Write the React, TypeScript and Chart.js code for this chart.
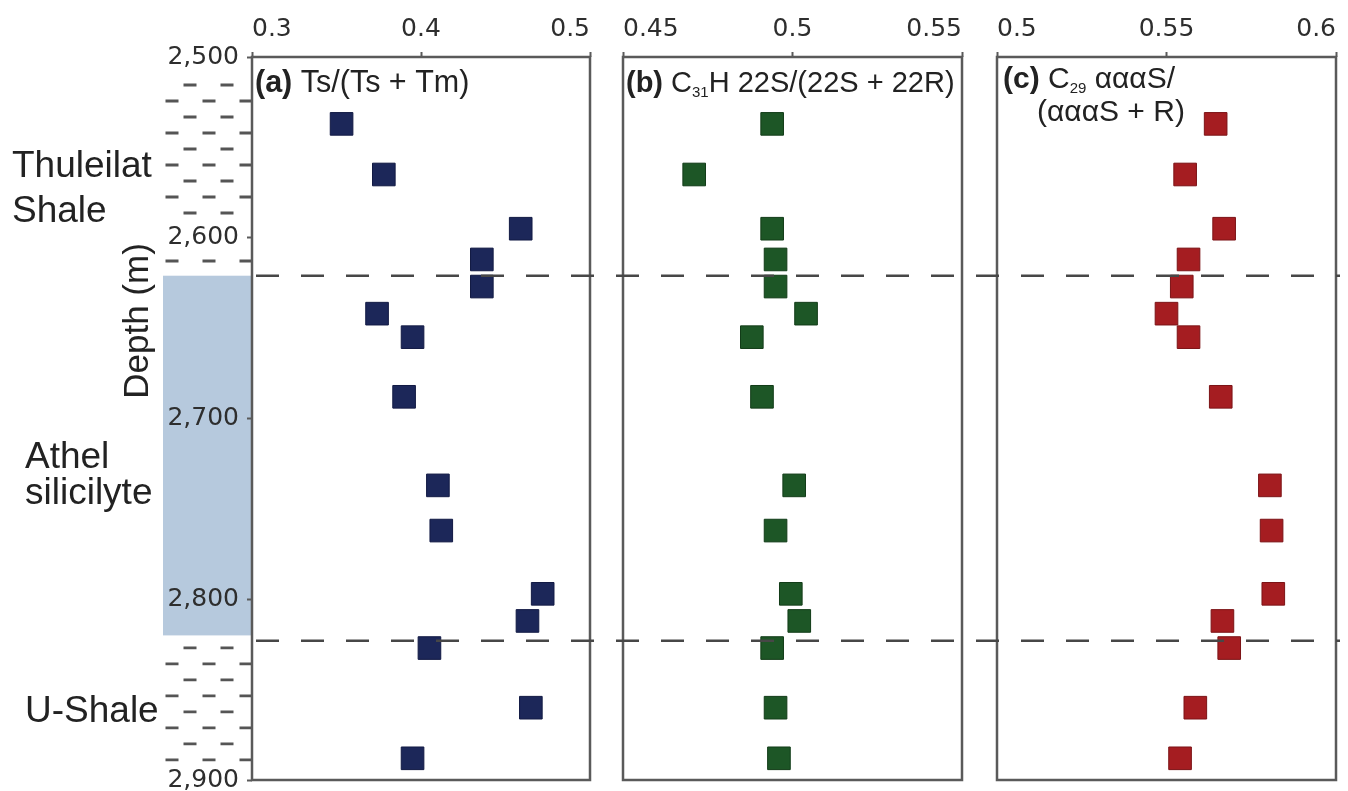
import React, { useEffect, useRef } from 'react';
import { Chart, registerables } from 'chart.js';

Chart.register(...registerables);

// ---------------- data ----------------
const DEPTHS = [2537, 2565, 2595, 2612, 2627, 2642, 2655, 2688, 2737, 2762, 2797, 2812, 2827, 2860, 2888];
const TS_TM = [0.353, 0.378, 0.459, 0.436, 0.436, 0.374, 0.395, 0.39, 0.41, 0.412, 0.472, 0.463, 0.405, 0.465, 0.395];
const C31_22S = [0.494, 0.471, 0.494, 0.495, 0.495, 0.504, 0.488, 0.491, 0.5005, 0.495, 0.4995, 0.502, 0.494, 0.495, 0.496];
const C29_S = [0.5645, 0.5555, 0.567, 0.5565, 0.5545, 0.55, 0.5565, 0.566, 0.5805, 0.581, 0.5815, 0.5665, 0.5685, 0.5585, 0.554];

const DEPTH_TICKS = [2500, 2600, 2700, 2800, 2900];
const DEPTH_TICK_LABELS = ['2,500', '2,600', '2,700', '2,800', '2,900'];
const A_TICKS = [0.3, 0.4, 0.5];
const A_TICK_LABELS = ['0.3', '0.4', '0.5'];
const B_TICKS = [0.45, 0.5, 0.55];
const B_TICK_LABELS = ['0.45', '0.5', '0.55'];
const C_TICKS = [0.5, 0.55, 0.6];
const C_TICK_LABELS = ['0.5', '0.55', '0.6'];

const BOUNDARY_DEPTHS = [2621, 2823];
const ATHEL_RANGE = [2621, 2820];
const SHALE_RANGES = [[2500, 2621], [2823, 2900]];
const FORMATION_LINES = [['Thuleilat', 'Shale'], ['Athel', 'silicilyte'], ['U-Shale']];
const AXIS_TITLE = 'Depth (m)';

// ---------------- style ----------------
const SANS = '"Liberation Sans", Arial, Helvetica, sans-serif';
const TICK_FONT = 'DejaVu Sans';
const FRAME = '#5a5a5a';
const TEXT = '#222222';

type Run = { t: string; bold?: boolean; size?: number; dy?: number };

function drawRuns(ctx: CanvasRenderingContext2D, x: number, y: number, runs: Run[], base = 29) {
  let cx = x;
  ctx.textAlign = 'left';
  ctx.textBaseline = 'alphabetic';
  ctx.fillStyle = TEXT;
  for (const r of runs) {
    ctx.font = `${r.bold ? 'bold ' : ''}${r.size ?? base}px ${SANS}`;
    ctx.fillText(r.t, cx, y + (r.dy ?? 0));
    cx += ctx.measureText(r.t).width;
  }
}

function makePlugin(kind: 'a' | 'b' | 'c', ox: number) {
  return {
    id: 'decor_' + kind,
    beforeDraw(chart: any) {
      if (kind !== 'a') return;
      const ctx: CanvasRenderingContext2D = chart.ctx;
      const ys = chart.scales.y;
      const left = chart.chartArea.left;
      ctx.save();
      // Athel silicilyte band
      const t = ys.getPixelForValue(ATHEL_RANGE[0]);
      const b = ys.getPixelForValue(ATHEL_RANGE[1]);
      ctx.fillStyle = '#b6c9dd';
      ctx.fillRect(163, t, left - 163, b - t);
      // shale pattern
      ctx.strokeStyle = '#555555';
      ctx.lineWidth = 2.8;
      ctx.beginPath();
      const starts = [28, 7];
      SHALE_RANGES.forEach(([d0, d1], zi) => {
        const top = ys.getPixelForValue(d0);
        const bot = ys.getPixelForValue(d1);
        let row = 0;
        for (let py = top + starts[zi]; py < bot - 6; py += 16, row++) {
          if (DEPTH_TICKS.some((tk) => Math.abs(ys.getPixelForValue(tk) - py) < 13)) continue;
          const xs = row % 2 === 0 ? [190, 227] : [172, 209, 246];
          xs.forEach((cx) => {
            ctx.moveTo(cx - 6.5, py);
            ctx.lineTo(cx + 6.5, py);
          });
        }
      });
      ctx.stroke();
      ctx.restore();
    },
    beforeDatasetsDraw(chart: any) {
      const ctx: CanvasRenderingContext2D = chart.ctx;
      const { left, right, top, bottom } = chart.chartArea;
      ctx.save();
      ctx.strokeStyle = FRAME;
      ctx.lineWidth = 2.5;
      ctx.strokeRect(left, top, right - left, bottom - top);
      ctx.restore();
    },
    afterDatasetsDraw(chart: any) {
      const ctx: CanvasRenderingContext2D = chart.ctx;
      const ys = chart.scales.y;
      const gStart = 256;
      const gEnd = 1340;
      const w = chart.width;
      const x0 = Math.max(0, gStart - ox);
      const x1 = Math.min(w, gEnd - ox);
      ctx.save();
      ctx.strokeStyle = '#474747';
      ctx.lineWidth = 2.5;
      ctx.setLineDash([23, 22]);
      ctx.lineDashOffset = ox + x0 - gStart;
      BOUNDARY_DEPTHS.forEach((d) => {
        const py = ys.getPixelForValue(d);
        ctx.beginPath();
        ctx.moveTo(x0, py);
        ctx.lineTo(x1, py);
        ctx.stroke();
      });
      ctx.restore();
    },
    afterDraw(chart: any) {
      const ctx: CanvasRenderingContext2D = chart.ctx;
      ctx.save();
      if (kind === 'a') {
        drawRuns(ctx, 255, 92, [{ t: '(a)', bold: true }, { t: ' Ts/(Ts + Tm)' }], 30.5);
        // formation labels
        ctx.fillStyle = TEXT;
        ctx.font = `37px ${SANS}`;
        ctx.textAlign = 'left';
        ctx.textBaseline = 'alphabetic';
        const pos = [
          [[12, 177], [12, 222]],
          [[25, 468], [25, 504]],
          [[25, 722]],
        ];
        FORMATION_LINES.forEach((lines, i) =>
          lines.forEach((ln, j) => ctx.fillText(ln, pos[i][j][0], pos[i][j][1]))
        );
        // axis title
        ctx.save();
        ctx.translate(148, 321);
        ctx.rotate(-Math.PI / 2);
        ctx.font = `35px ${SANS}`;
        ctx.textAlign = 'center';
        ctx.fillText(AXIS_TITLE, 0, 0);
        ctx.restore();
      } else if (kind === 'b') {
        drawRuns(ctx, 626 - ox, 92, [
          { t: '(b)', bold: true },
          { t: ' C' },
          { t: '31', size: 15, dy: 5 },
          { t: 'H 22S/(22S + 22R)' },
        ]);
      } else {
        drawRuns(
          ctx,
          1003 - ox,
          88,
          [
            { t: '(c)', bold: true },
            { t: ' C' },
            { t: '29', size: 15, dy: 5 },
            { t: ' \u03B1\u03B1\u03B1S/' },
          ],
          30
        );
        drawRuns(ctx, 1037 - ox, 121, [{ t: '(\u03B1\u03B1\u03B1S + R)' }], 30);
      }
      ctx.restore();
    },
  };
}

function zeroPadding(s: any) {
  s.paddingTop = 0;
  s.paddingBottom = 0;
  s.paddingLeft = 0;
  s.paddingRight = 0;
}

function makeConfig(o: {
  kind: 'a' | 'b' | 'c';
  ox: number;
  values: number[];
  color: string;
  border: string;
  ticks: number[];
  tickLabels: string[];
  padLeft: number;
  padRight: number;
}): any {
  const showDepth = o.kind === 'a';
  return {
    type: 'scatter',
    data: {
      datasets: [
        {
          data: DEPTHS.map((d, i) => ({ x: o.values[i], y: d })),
          backgroundColor: o.color,
          borderColor: o.border,
          borderWidth: 1,
          pointStyle: 'rect',
          pointRadius: 16,
          pointHoverRadius: 16,
        },
      ],
    },
    options: {
      animation: false,
      responsive: false,
      events: [],
      layout: { autoPadding: false, padding: { left: o.padLeft, right: o.padRight, top: 0, bottom: 11 } },
      plugins: { legend: { display: false }, tooltip: { enabled: false } },
      scales: {
        x: {
          type: 'linear',
          position: 'top',
          min: o.ticks[0],
          max: o.ticks[o.ticks.length - 1],
          afterBuildTicks: (s: any) => {
            s.ticks = o.ticks.map((v) => ({ value: v }));
          },
          afterFit: (s: any) => {
            s.height = 57;
            zeroPadding(s);
          },
          ticks: {
            callback: (_v: any, i: number) => o.tickLabels[i],
            align: 'inner',
            padding: 8,
            color: '#2e2e2e',
            font: { family: TICK_FONT, size: 25 },
            maxRotation: 0,
            autoSkip: false,
          },
          grid: { drawOnChartArea: false, drawTicks: true, tickLength: 5, tickWidth: 2, tickColor: FRAME },
          border: { display: false },
        },
        y: {
          type: 'linear',
          position: 'left',
          display: showDepth,
          min: 2500,
          max: 2900,
          reverse: true,
          afterBuildTicks: (s: any) => {
            s.ticks = DEPTH_TICKS.map((v) => ({ value: v }));
          },
          afterFit: (s: any) => {
            s.width = showDepth ? 252 : 0;
            zeroPadding(s);
          },
          ticks: {
            callback: (_v: any, i: number) => DEPTH_TICK_LABELS[i],
            padding: 8,
            color: '#2e2e2e',
            font: { family: TICK_FONT, size: 25 },
            autoSkip: false,
          },
          grid: { drawOnChartArea: false, drawTicks: true, tickLength: 5, tickWidth: 2, tickColor: FRAME },
          border: { display: false },
        },
      },
    },
    plugins: [makePlugin(o.kind, o.ox)],
  };
}

const PANELS = [
  { kind: 'a' as const, ox: 0, w: 606, values: TS_TM, color: '#1c2759', border: '#121a44', ticks: A_TICKS, tickLabels: A_TICK_LABELS, padLeft: 0, padRight: 16 },
  { kind: 'b' as const, ox: 606, w: 373, values: C31_22S, color: '#1d5626', border: '#123c18', ticks: B_TICKS, tickLabels: B_TICK_LABELS, padLeft: 17, padRight: 17 },
  { kind: 'c' as const, ox: 979, w: 369, values: C29_S, color: '#a51d21', border: '#7c1316', ticks: C_TICKS, tickLabels: C_TICK_LABELS, padLeft: 18, padRight: 12 },
];

export default function App() {
  const refs = [useRef<HTMLCanvasElement>(null), useRef<HTMLCanvasElement>(null), useRef<HTMLCanvasElement>(null)];

  useEffect(() => {
    const charts = PANELS.map((p, i) => new Chart(refs[i].current as HTMLCanvasElement, makeConfig(p)));
    return () => charts.forEach((c) => c.destroy());
  }, []);

  return (
    <div style={{ position: 'absolute', left: 0, top: 0, width: 1348, height: 791, background: '#ffffff', overflow: 'hidden' }}>
      {PANELS.map((p, i) => (
        <canvas
          key={p.kind}
          ref={refs[i]}
          width={p.w}
          height={791}
          style={{ position: 'absolute', left: p.ox, top: 0, width: p.w, height: 791 }}
        />
      ))}
    </div>
  );
}
